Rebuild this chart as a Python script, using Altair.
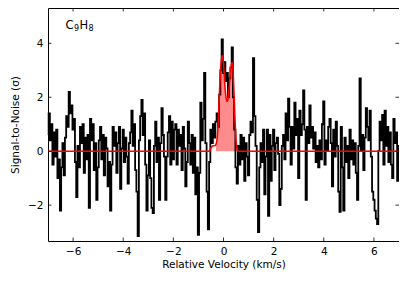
import altair as alt
import pandas as pd

# Signal-to-noise spectrum, channels every 0.05 km/s from -7 to +7
snr = [
    0.6, 1.4, 0.4, 1.0, -0.5, 0.7, -0.2, 0.8, -1.0, -0.3, -2.2, -0.6, 0.3, -0.9, 0.5, 1.3, 0.9, 2.2, 1.4, 1.7,
    0.8, 1.2, -0.4, -1.7, 0.2, -0.6, 0.9, 0.3, 1.0, -0.8, 0.5, -0.3, 0.6, -2.1, 1.2, 0.4, 1.0, -0.7, 0.3, -1.8,
    -0.6, 0.4, 0.9, -0.3, 0.6, -0.9, 0.5, 0.1, -1.3, -0.4, -2.2, -0.5, 0.9, 0.2, 0.7, -0.8, 0.3, 0.9, -1.4, 0.1,
    0.8, -0.4, 0.5, -0.2, -1.2, 0.3, 0.7, 1.5, 0.2, 1.0, -0.7, -1.5, -3.15, 0.4, 1.3, 1.9, 0.6, 1.4, -0.5, -2.2,
    -0.9, 0.4, -1.0, -2.1, -2.3, 0.2, 1.1, -0.4, 0.5, -1.8, 0.3, 1.6, 0.6, -0.2, -1.8, -0.2, 0.7, 1.3, -0.5, 1.1,
    -0.3, 0.8, 1.0, -0.5, 0.8, 0.2, 0.6, -0.7, 0.9, 0.1, -1.3, -0.4, 1.1, 0.3, -0.5, 0.6, -0.8, 0.5, -1.6, -0.6,
    -3.1, -0.8, 1.8, 0.4, 1.2, 2.9, 0.3, -1.5, -2.9, -0.4, 0.8, 0.3, 1.0, 0.5, 1.1, 1.4, 0.9, 2.1, 3.0, 4.15,
    2.9, 3.3, 2.6, 2.9, 2.0, 2.7, 3.1, 3.85, 2.0, 0.8, -0.6, -1.2, 0.2, -0.5, 0.6, -0.3, 0.5, -1.1, 0.3, -0.2,
    -0.9, 0.6, 1.1, 0.7, 3.45, 1.3, 0.2, -1.8, -3.0, -0.6, 0.3, -0.4, 0.8, -1.6, -0.2, 0.8, -2.4, 0.6, -1.1, 0.2,
    0.8, -0.7, 0.3, 0.5, -0.1, -2.0, -1.4, 0.2, 0.6, -0.3, 1.4, 0.4, 1.95, 0.9, -0.5, 0.9, 0.1, 1.8, 0.6, 1.2,
    -1.0, 1.5, 0.6, 1.0, 2.25, 0.8, -1.8, 0.9, 0.3, 1.7, 0.5, 0.9, 0.1, 0.7, -0.4, 0.2, -0.6, 0.4, -0.3, 1.0,
    1.85, -0.5, 0.4, 0.0, 0.9, 1.2, 0.3, -1.3, 0.8, -0.2, 1.1, 0.2, -1.5, -2.25, 0.9, -0.6, -2.2, 0.5, -0.4, 0.2,
    -1.0, 0.8, -0.3, 0.4, -0.5, 0.3, -0.8, -1.8, 0.2, 2.7, 0.0, 0.6, -0.7, 0.5, 1.6, 0.9, 0.4, 1.5, -0.2, -1.5,
    -1.8, -2.2, -2.5, -2.7, 0.0, 1.1, 0.4, 1.35, -0.5, 1.5, 0.2, 0.9, -0.4, 0.7, -0.5, -1.0, 1.2, 0.3, 0.7, -1.1,
    0.2,
]
velocity = [round(-7.0 + 0.05 * i, 2) for i in range(len(snr))]

# Model (red) profile
model_v = [-7.0, -0.60, -0.55, -0.50, -0.45, -0.40, -0.35, -0.30, -0.25, -0.20, -0.15, -0.10, -0.05,
           0.00, 0.05, 0.10, 0.15, 0.20, 0.25, 0.30, 0.35, 0.40, 0.45, 0.50, 0.55, 0.60, 7.0]
model_s = [0.0, 0.0, 0.02, 0.12, 0.18, 0.2, 0.2, 0.25, 0.5, 1.3, 2.4, 3.25, 3.55,
           3.25, 2.5, 2.0, 1.85, 2.05, 2.65, 3.15, 3.3, 2.6, 1.35, 0.4, 0.05, 0.0, 0.0]
fill_range = [-0.30, 0.55]

x_ticks = [-6, -4, -2, 0, 2, 4, 6]
y_ticks = [-2, 0, 2, 4]
x_dom = [-7.0, 7.0]
y_dom = [-3.33, 5.31]

# molecule label pieces: text, font size, x offset (px), y offset (px)
mol_parts = ["C", "9", "H", "8"]
mol_sizes = [11.5, 8, 11.5, 8]
mol_dx = [0, 8.5, 14, 23]
mol_dy = [0, 3, 0, 3]
mol_pos = (-6.3, 4.65)

spec_df = pd.DataFrame({"v": velocity, "s": snr})
model_df = pd.DataFrame({"v": model_v, "s": model_s})
fill_df = model_df[(model_df.v >= fill_range[0]) & (model_df.v <= fill_range[1])]

xs = alt.Scale(domain=x_dom, nice=False, zero=False)
ys = alt.Scale(domain=y_dom, nice=False, zero=False)

x_enc = alt.X("v:Q", scale=xs, title="Relative Velocity (km/s)",
              axis=alt.Axis(values=x_ticks, ticks=False, grid=False, labelPadding=5,
                            titlePadding=3, domain=False))
y_enc = alt.Y("s:Q", scale=ys, title="Signal-to-Noise (σ)",
              axis=alt.Axis(values=y_ticks, ticks=False, grid=False, labelPadding=5,
                            titlePadding=7, domain=False))

fill = alt.Chart(fill_df).mark_area(color="#ff0000", opacity=0.45, interpolate="monotone").encode(
    x=x_enc, y=y_enc, y2=alt.datum(0))
black = alt.Chart(spec_df).mark_line(color="black", strokeWidth=1.8, interpolate="step").encode(
    x=x_enc, y=y_enc)
red = alt.Chart(model_df).mark_line(color="#ff0000", strokeWidth=1.6, interpolate="monotone").encode(
    x=x_enc, y=y_enc)

# inward ticks on all four sides
tick_len_y = 0.13
tick_len_x = 0.14
xt = pd.DataFrame({"v": x_ticks})
yt = pd.DataFrame({"s": y_ticks})
tb = alt.Chart(xt).mark_rule(color="black", strokeWidth=0.8).encode(
    x=alt.X("v:Q", scale=xs), y=alt.YDatum(y_dom[0]), y2=alt.datum(y_dom[0] + tick_len_y))
tt = alt.Chart(xt).mark_rule(color="black", strokeWidth=0.8).encode(
    x=alt.X("v:Q", scale=xs), y=alt.YDatum(y_dom[1]), y2=alt.datum(y_dom[1] - tick_len_y))
tl = alt.Chart(yt).mark_rule(color="black", strokeWidth=0.8).encode(
    y=alt.Y("s:Q", scale=ys), x=alt.XDatum(x_dom[0]), x2=alt.datum(x_dom[0] + tick_len_x))
tr = alt.Chart(yt).mark_rule(color="black", strokeWidth=0.8).encode(
    y=alt.Y("s:Q", scale=ys), x=alt.XDatum(x_dom[1]), x2=alt.datum(x_dom[1] - tick_len_x))

labels = []
for t, fs, dx, dy in zip(mol_parts, mol_sizes, mol_dx, mol_dy):
    labels.append(
        alt.Chart(pd.DataFrame({"v": [mol_pos[0]], "s": [mol_pos[1]], "t": [t]})).mark_text(
            align="left", baseline="middle", fontSize=fs, font="DejaVu Sans", color="black",
            dx=dx, dy=dy).encode(x=alt.X("v:Q", scale=xs), y=alt.Y("s:Q", scale=ys), text="t:N")
    )

chart = alt.layer(fill, black, red, tb, tt, tl, tr, *labels).properties(
    width=351, height=233,
    autosize=alt.AutoSizeParams(type="none"),
    padding={"left": 40, "top": 0, "right": 0, "bottom": 32},
).configure_view(stroke="black", strokeWidth=1).configure_axis(
    labelFont="DejaVu Sans", titleFont="DejaVu Sans", labelFontSize=10.5, titleFontSize=10.5,
    labelColor="black", titleColor="black", titleFontWeight="normal",
)

chart.save("out.html", embed_options={"renderer": "svg", "actions": False})
